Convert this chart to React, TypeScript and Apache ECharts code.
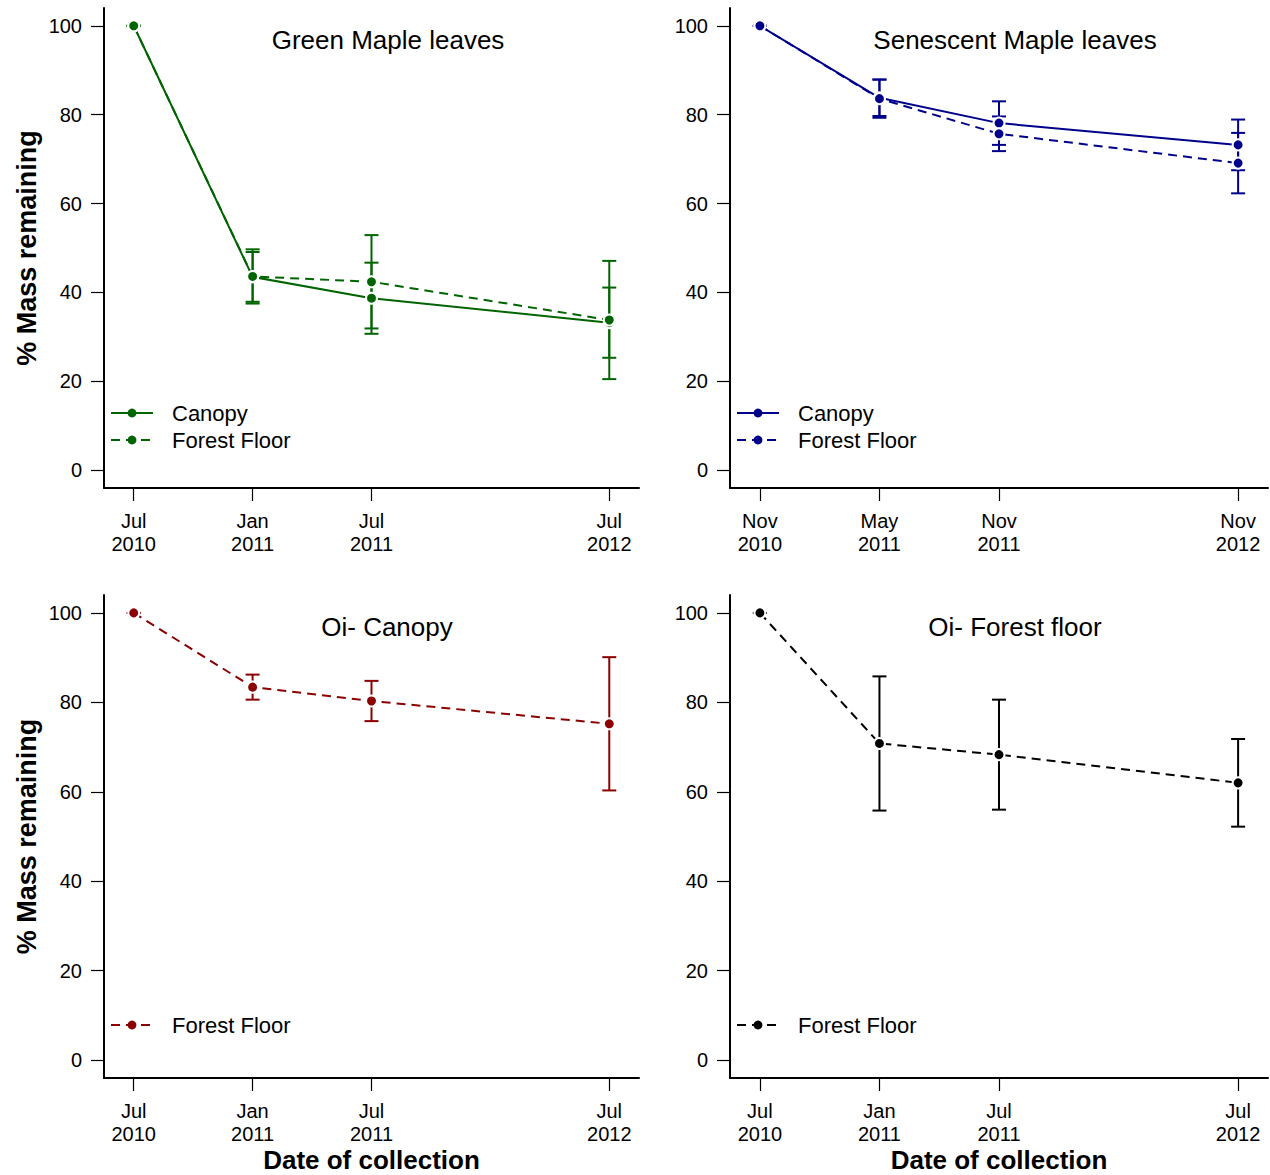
import React, { useEffect, useRef } from "react";
import * as echarts from "echarts";

// ---- data ----
const months = [0, 6, 12, 24];
const labelsJul = ["Jul\n2010", "Jan\n2011", "Jul\n2011", "Jul\n2012"];
const labelsNov = ["Nov\n2010", "May\n2011", "Nov\n2011", "Nov\n2012"];
const yTicks = [0, 20, 40, 60, 80, 100];

const greenCanopy = [100, 43.5, 38.7, 33.2];
const greenCanopyErr = [0, 5.6, 8.0, 7.9];
const greenFloor = [100, 43.6, 42.4, 33.8];
const greenFloorErr = [0, 6.1, 10.5, 13.3];

const senCanopy = [100, 83.8, 78.1, 73.2];
const senCanopyErr = [0, 4.1, 4.9, 5.7];
const senFloor = [100, 83.6, 75.7, 69.1];
const senFloorErr = [0, 4.3, 3.9, 6.8];

const oiCanopyFloor = [100, 83.4, 80.3, 75.2];
const oiCanopyFloorErr = [0, 2.8, 4.5, 14.9];

const oiFloorFloor = [100, 70.8, 68.3, 62.0];
const oiFloorFloorErr = [0, 15.0, 12.3, 9.8];

const titles = ["Green Maple leaves", "Senescent Maple leaves", "Oi- Canopy", "Oi- Forest floor"];

const FONT = "'Liberation Sans', Arial, Helvetica, sans-serif";
const GREEN = "#006400";
const BLUE = "#00008B";
const RED = "#8B0000";
const BLACK = "#000000";

export default function App() {
  const ref = useRef<HTMLDivElement>(null);
  useEffect(() => {
    if (!ref.current) return;
    const chart = echarts.init(ref.current, undefined, { renderer: "svg" });

    const grids = [
      { left: 104, top: 8, width: 535, height: 480 },
      { left: 730, top: 8, width: 538, height: 480 },
      { left: 104, top: 595, width: 535, height: 483 },
      { left: 730, top: 595, width: 538, height: 483 },
    ];

    const xLabelSets = [labelsJul, labelsNov, labelsJul, labelsJul];

    const xAxis = grids.map((_, i) => ({
      type: "value",
      gridIndex: i,
      min: -1.5,
      max: 25.5,
      position: "bottom",
      splitLine: { show: false },
      axisLine: { show: true, onZero: false, lineStyle: { color: BLACK, width: 2 } },
      axisTick: { show: true, customValues: months, length: 13, lineStyle: { color: BLACK, width: 1.2 } },
      axisLabel: {
        customValues: months,
        formatter: (v: number) => {
          const k = months.indexOf(v);
          return k >= 0 ? xLabelSets[i][k] : "";
        },
        fontSize: 20,
        lineHeight: 23,
        margin: 21,
        color: BLACK,
        fontFamily: FONT,
      },
      name: i >= 2 ? "Date of collection" : "",
      nameLocation: "middle",
      nameGap: 69,
      nameTextStyle: { fontSize: 26, fontWeight: "bold", color: BLACK, fontFamily: FONT },
    }));

    const yAxis = grids.map((_, i) => ({
      type: "value",
      gridIndex: i,
      min: -4,
      max: 104,
      splitLine: { show: false },
      axisLine: { show: true, onZero: false, lineStyle: { color: BLACK, width: 2 } },
      axisTick: { show: true, customValues: yTicks, length: 13, lineStyle: { color: BLACK, width: 1.2 } },
      axisLabel: {
        customValues: yTicks,
        fontSize: 20,
        margin: 22,
        color: BLACK,
        fontFamily: FONT,
      },
      name: i % 2 === 0 ? "% Mass remaining" : "",
      nameLocation: "middle",
      nameGap: 64,
      nameTextStyle: { fontSize: 27, fontWeight: "bold", color: BLACK, fontFamily: FONT },
    }));

    const lineSeries = (name: string, idx: number, vals: number[], color: string, dashed: boolean) => ({
      type: "line",
      name,
      xAxisIndex: idx,
      yAxisIndex: idx,
      data: months.map((m, k) => [m, vals[k]]),
      symbol: "circle",
      symbolSize: 11,
      showSymbol: true,
      z: 5,
      lineStyle: { color, width: 2, type: dashed ? [9, 6] : "solid" },
      itemStyle: { color, borderColor: "#ffffff", borderWidth: 2 },
      emphasis: { disabled: true },
    });

    const errSeries = (idx: number, vals: number[], errs: number[], color: string) => ({
      type: "custom",
      xAxisIndex: idx,
      yAxisIndex: idx,
      z: 2,
      data: months.map((m, k) => [m, vals[k] - errs[k], vals[k] + errs[k]]),
      encode: { x: 0, y: [1, 2] },
      renderItem: (params: any, api: any) => {
        const x = api.value(0);
        const lo = api.value(1);
        const hi = api.value(2);
        const top = api.coord([x, hi]);
        const bot = api.coord([x, lo]);
        const w = 7;
        const style = { stroke: color, lineWidth: 2 };
        return {
          type: "group",
          children: [
            { type: "line", shape: { x1: top[0], y1: top[1], x2: bot[0], y2: bot[1] }, style },
            { type: "line", shape: { x1: top[0] - w, y1: top[1], x2: top[0] + w, y2: top[1] }, style },
            { type: "line", shape: { x1: bot[0] - w, y1: bot[1], x2: bot[0] + w, y2: bot[1] }, style },
          ],
        };
      },
    });

    const series = [
      errSeries(0, greenCanopy, greenCanopyErr, GREEN),
      errSeries(0, greenFloor, greenFloorErr, GREEN),
      errSeries(1, senCanopy, senCanopyErr, BLUE),
      errSeries(1, senFloor, senFloorErr, BLUE),
      errSeries(2, oiCanopyFloor, oiCanopyFloorErr, RED),
      errSeries(3, oiFloorFloor, oiFloorFloorErr, BLACK),
      lineSeries("g|Canopy", 0, greenCanopy, GREEN, false),
      lineSeries("g|Forest Floor", 0, greenFloor, GREEN, true),
      lineSeries("s|Canopy", 1, senCanopy, BLUE, false),
      lineSeries("s|Forest Floor", 1, senFloor, BLUE, true),
      lineSeries("r|Forest Floor", 2, oiCanopyFloor, RED, true),
      lineSeries("k|Forest Floor", 3, oiFloorFloor, BLACK, true),
    ];

    const legendBase = {
      orient: "vertical",
      padding: 0,
      itemWidth: 42,
      itemHeight: 11,
      itemGap: 5,
      selectedMode: false,
      formatter: (name: string) => name.split("|")[1],
      textStyle: { fontSize: 22, color: BLACK, fontFamily: FONT, lineHeight: 22, padding: [0, 0, 0, 14] },
      itemStyle: { borderWidth: 0 },
    };

    const legend = [
      { ...legendBase, left: 110, top: 402, data: ["g|Canopy", "g|Forest Floor"] },
      { ...legendBase, left: 736, top: 402, data: ["s|Canopy", "s|Forest Floor"] },
      { ...legendBase, left: 110, top: 1014, data: ["r|Forest Floor"] },
      { ...legendBase, left: 736, top: 1014, data: ["k|Forest Floor"] },
    ];

    const titlePos = [
      [388, 40],
      [1015, 40],
      [387, 627],
      [1015, 627],
    ];

    const graphic = titles.map((t, i) => ({
      type: "text",
      x: titlePos[i][0],
      y: titlePos[i][1],
      style: {
        text: t,
        fontSize: 26,
        fontFamily: FONT,
        fill: BLACK,
        align: "center",
        verticalAlign: "middle",
        textAlign: "center",
        textVerticalAlign: "middle",
      },
    }));

    chart.setOption({
      animation: false,
      backgroundColor: "#ffffff",
      grid: grids.map((g) => ({ ...g, outerBoundsMode: "none", containLabel: false })),
      xAxis,
      yAxis,
      legend,
      series,
      graphic,
    });

    return () => chart.dispose();
  }, []);

  return (
    <div
      ref={ref}
      style={{ position: "absolute", left: 0, top: 0, width: 1270, height: 1175 }}
    />
  );
}
